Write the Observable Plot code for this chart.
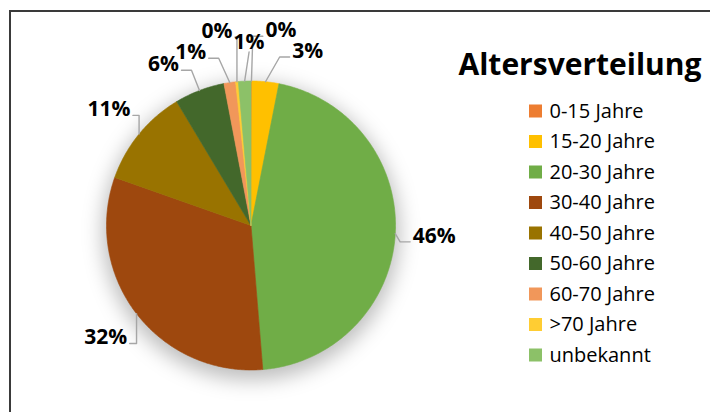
<!DOCTYPE html>
<html><head><meta charset="utf-8">
<script src="https://cdn.jsdelivr.net/npm/d3@7"></script>
<script src="https://cdn.jsdelivr.net/npm/@observablehq/plot@0.6"></script>
<style>
html,body{margin:0;padding:0;background:#fff;}
#wrap{position:relative;width:710px;height:412px;overflow:hidden;}
#frame{position:absolute;left:9px;top:10px;width:720px;height:420px;border-top:2px solid #3a3a3a;border-left:2px solid #3a3a3a;pointer-events:none;}
</style></head><body>
<div id="wrap"><div id="chart"></div><div id="frame"></div></div>
<script>
const title = "Altersverteilung";
const categories = ["0-15 Jahre","15-20 Jahre","20-30 Jahre","30-40 Jahre","40-50 Jahre","50-60 Jahre","60-70 Jahre",">70 Jahre","unbekannt"];
const shares = [0.1, 3.0, 45.6, 31.7, 11.0, 5.6, 1.3, 0.3, 1.4];
const colors = ["#ED7D31","#FFC000","#70AD47","#9E480E","#997300","#43682B","#F1975A","#FFCD33","#8CC168"];

// layout
const W = 710, H = 412, cx = 250.5, cy = 225, r = 144.5;
const labelFs = 21, legendFs = 20, titleFs = 30;
const legendX = 529, legendTop = 111, legendStep = 30.5, sw = 13;
const titleX = 458, titleY = 74;

const data = categories.map((c, i) => ({category: c, share: shares[i]}));
const arcs = d3.pie().sort(null).value(d => d.share).startAngle(0).endAngle(2 * Math.PI)(data);
const px = (a, rad) => cx + rad * Math.sin(a);
const py = (a, rad) => cy - rad * Math.cos(a);

const slicePts = [];
arcs.forEach(a => {
  const n = Math.max(2, Math.ceil((a.endAngle - a.startAngle) / (Math.PI / 360)));
  slicePts.push({category: a.data.category, x: cx, y: cy});
  for (let k = 0; k <= n; k++) {
    const t = a.startAngle + (a.endAngle - a.startAngle) * k / n;
    slicePts.push({category: a.data.category, x: px(t, r), y: py(t, r)});
  }
  slicePts.push({category: a.data.category, x: cx, y: cy});
});

// label placement: mid-angle, spread to avoid overlap; tiny slices pushed further out
const fmt = d3.format(".0%");
const ang = arcs.map(a => { const v = (a.startAngle + a.endAngle) / 2 * 180 / Math.PI; return v > 180 ? v - 360 : v; });
const order = d3.range(ang.length).sort((i, j) => ang[i] - ang[j]);
const gap = 9.3;
for (let it = 0; it < 500; it++) {
  for (let k = 1; k < order.length; k++) {
    const i = order[k - 1], j = order[k];
    const d = ang[j] - ang[i];
    if (d < gap) { const p = (gap - d) / 2; ang[i] -= p; ang[j] += p; }
  }
}
const labels = arcs.map((a, i) => {
  const t = ang[i] * Math.PI / 180;
  const R = r + 39 + (a.data.share < 0.5 ? 14 : 0);
  const text = fmt(a.data.share / 100);
  const digits = text.length - 1;
  const hw = (digits * 0.572 + 0.861) * labelFs / 2;
  return {text, x: px(t, R), y: py(t, R), hw};
});
const leaders = [];
labels.forEach((l, i) => {
  const m = (arcs[i].startAngle + arcs[i].endAngle) / 2;
  const A = {x: px(m, r), y: py(m, r)};
  let pts;
  if (Math.abs(l.x - A.x) < l.hw) {
    const Cy = l.y < A.y ? l.y + 10 : l.y - 10;
    pts = [A, {x: l.x, y: Cy}];
  } else {
    const s = l.x > A.x ? -1 : 1;
    const C = {x: l.x + s * (l.hw + 3), y: l.y + 6};
    let bx = C.x + s * 10;
    if (s < 0 ? bx < A.x : bx > A.x) bx = A.x;
    pts = [A, {x: bx, y: C.y}, C];
  }
  pts.forEach(p => leaders.push({id: i, x: p.x, y: p.y}));
});

const legendRows = categories.map((c, i) => ({category: c, y: legendTop + i * legendStep}));

const chart = Plot.plot({
  width: W, height: H, margin: 0,
  x: {domain: [0, W], range: [0, W], axis: null},
  y: {domain: [0, H], range: [0, H], axis: null},
  color: {domain: categories, range: colors},
  style: {fontFamily: "'Open Sans', sans-serif", background: "transparent", overflow: "visible"},
  marks: [
    Plot.dot([0], {x: () => cx, y: () => cy + 6, r: r + 4, fill: "#000", fillOpacity: 0.26, stroke: "none", ariaLabel: "shadow"}),
    Plot.line(slicePts, {x: "x", y: "y", z: "category", fill: "category", stroke: "category", strokeWidth: 0.6, curve: "linear"}),
    Plot.line(leaders, {x: "x", y: "y", z: "id", stroke: "#a6a6a6", strokeWidth: 1.4}),
    Plot.text(labels, {x: "x", y: "y", text: "text", fontSize: labelFs, fontWeight: "bold", fill: "#000"}),
    Plot.rect(legendRows, {x1: () => legendX, x2: () => legendX + sw, y1: d => d.y - sw / 2, y2: d => d.y + sw / 2, fill: "category"}),
    Plot.text(legendRows, {x: () => legendX + sw + 7, y: "y", text: "category", textAnchor: "start", fontSize: legendFs, fill: "#000"}),
    Plot.text([title], {x: () => titleX, y: () => titleY, text: d => d, textAnchor: "start", lineAnchor: "bottom", fontSize: titleFs, fontWeight: "bold", fill: "#000"})
  ]
});
document.getElementById("chart").appendChild(chart);

const svg = d3.select(chart);
const defs = svg.insert("defs", ":first-child");
const f = defs.append("filter").attr("id", "pieShadow").attr("x", "-30%").attr("y", "-30%").attr("width", "160%").attr("height", "160%");
f.append("feGaussianBlur").attr("stdDeviation", 10);
let sh = svg.selectAll('g[aria-label="shadow"]');
if (sh.empty()) sh = svg.selectAll('g[aria-label="dot"]');
sh.attr("filter", "url(#pieShadow)");
</script>
</body></html>
